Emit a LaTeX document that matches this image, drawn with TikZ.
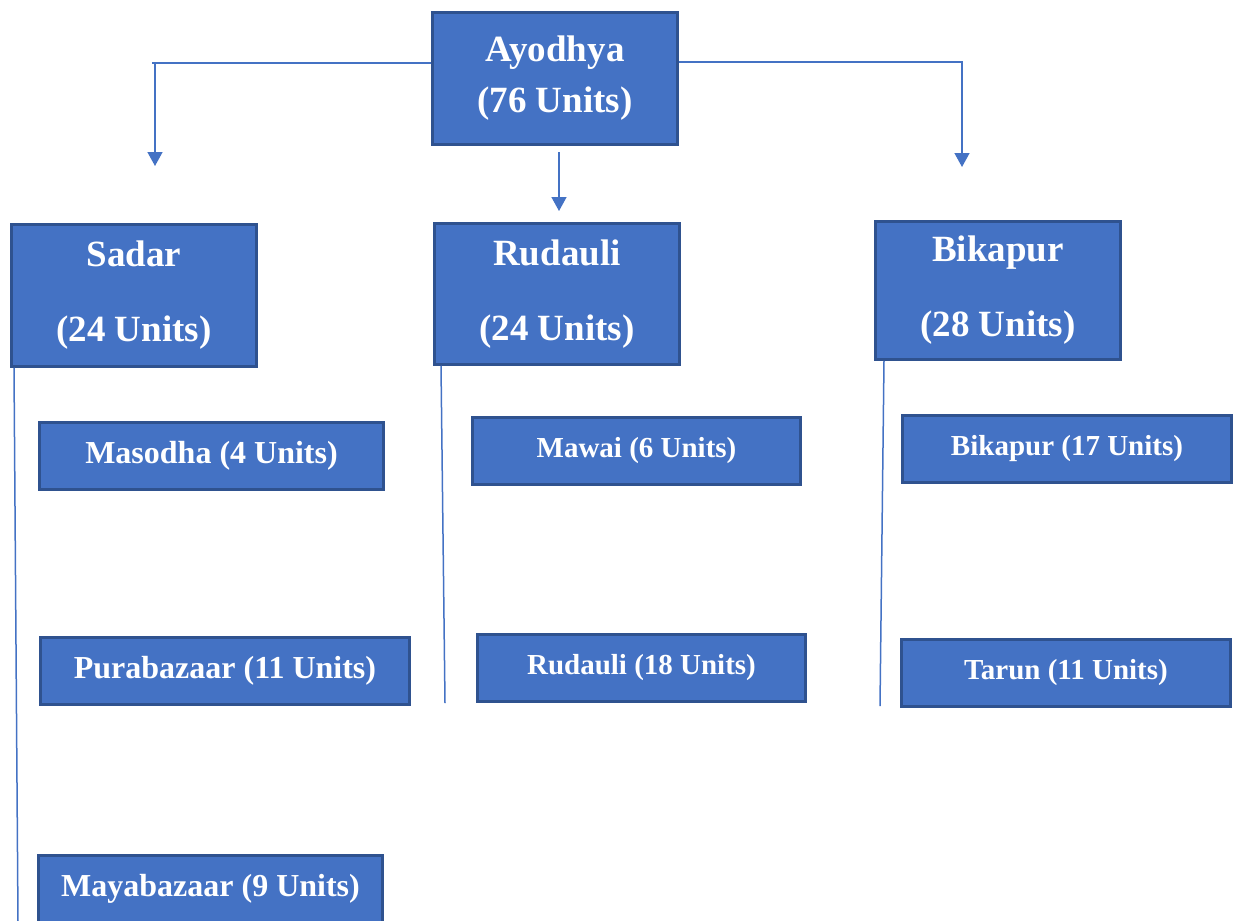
\documentclass[tikz,border=0pt]{standalone}
\usepackage{fontspec}
\setmainfont{Liberation Serif}
\usetikzlibrary{arrows.meta,calc}
\definecolor{boxfill}{HTML}{4472C4}
\definecolor{boxline}{HTML}{2F528F}
\definecolor{conn}{HTML}{4472C4}
\tikzset{
  unitbox/.style={draw=boxline, fill=boxfill, line width=2.5pt, text=white, inner sep=0pt, align=center, font=\bfseries},
  topbox/.style={unitbox, minimum width=245pt, minimum height=132pt, font=\bfseries\fontsize{37}{51}\selectfont},
  midbox/.style={unitbox, minimum width=245pt, minimum height=140pt, font=\bfseries\fontsize{37}{75}\selectfont},
  subbig/.style={unitbox, minimum height=67pt, font=\bfseries\fontsize{32}{38}\selectfont},
  subsmall/.style={unitbox, minimum height=67pt, font=\bfseries\fontsize{29}{35}\selectfont},
  conline/.style={draw=conn, line width=1.5pt},
  conarrow/.style={conline, -{Triangle[width=15pt,length=14pt]}}
}
\begin{document}
\begin{tikzpicture}[x=1pt,y=-1pt]
\useasboundingbox (0,0) rectangle (1237,921);
\clip (0,0) rectangle (1237,921);
% top
\node[topbox] (ayo) at (555,78.5) {Ayodhya\\(76 Units)};
% second level
\node[midbox, minimum height=142pt] (sadar) at (134,295.5) {Sadar\\(24 Units)};
\node[midbox, minimum height=141pt] (rud) at (557,294) {Rudauli\\(24 Units)};
\node[midbox, minimum height=138pt] (bik) at (998,290.5) {Bikapur\\(28 Units)};
% third level
\node[subbig, minimum width=344pt] (maso) at (211.5,456) {Masodha (4 Units)};
\node[subbig, minimum width=369pt] (pura) at (225,671) {Purabazaar (11 Units)};
\node[subbig, minimum width=344pt] (maya) at (210.5,889) {Mayabazaar (9 Units)};
\node[subsmall, minimum width=328pt] (mawai) at (636.5,451) {Mawai (6 Units)};
\node[subsmall, minimum width=328pt] (rud18) at (641.5,668) {Rudauli (18 Units)};
\node[subsmall, minimum width=329pt] (bik17) at (1067,449) {Bikapur (17 Units)};
\node[subsmall, minimum width=329pt] (tarun) at (1066,673) {Tarun (11 Units)};
% connector coordinates
\coordinate (lcorner) at (155,63);
\coordinate (lend) at (155,166);
\coordinate (rcorner) at (962,62);
\coordinate (rend) at (962,167);
\coordinate (mstart) at (559,152);
\coordinate (mend) at (559,211);
\coordinate (sadarend) at (18,921);
\coordinate (rudend) at (445,703);
\coordinate (bikend) at (880,706);
% connectors
\draw[conarrow] (ayo.west |- lcorner) -- (152,63) (lcorner) -- (lend);
\draw[conarrow] (ayo.east |- rcorner) -- (rcorner) -- (rend);
\draw[conarrow] (mstart) -- (mend);
\draw[conline] (sadar.south west -| 14,0) -- (sadarend);
\draw[conline] (rud.south west -| 441,0) -- (rudend);
\draw[conline] (bik.south west -| 884,0) -- (bikend);
\end{tikzpicture}
\end{document}
